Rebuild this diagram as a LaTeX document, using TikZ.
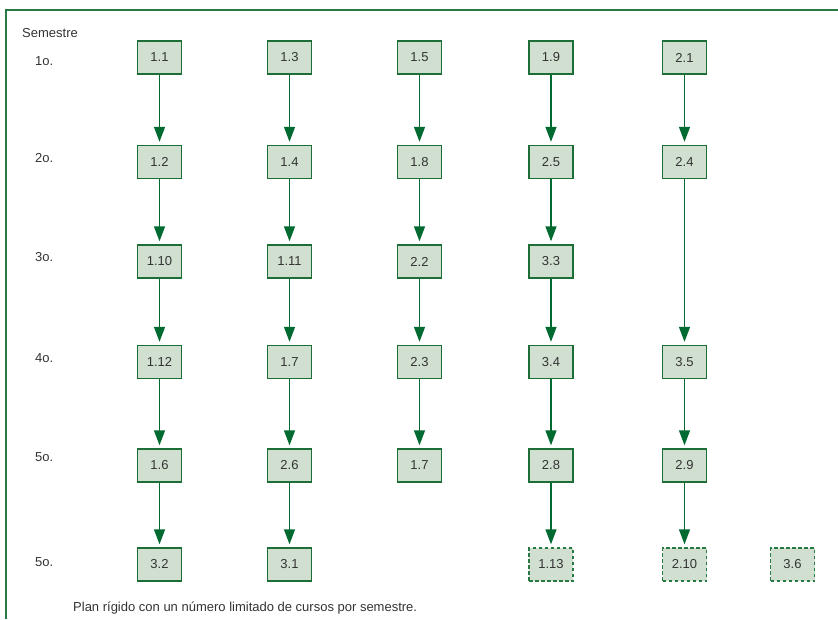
\documentclass[tikz,border=0pt]{standalone}
\usepackage{fontspec}
\setmainfont{Liberation Sans}
\usepackage{tikz}
\newcommand{\coursewidth}{44pt}
\newcommand{\courseheight}{33pt}
\definecolor{framegreen}{HTML}{267A42}
\definecolor{boxgreen}{HTML}{1D6E36}
\definecolor{coursefill}{HTML}{D0DFD0}
\definecolor{arrowgreen}{HTML}{006A30}
\definecolor{labelgray}{HTML}{333333}
\usetikzlibrary{arrows.meta}
\tikzstyle{course}=[draw=boxgreen, fill=coursefill, line width=1.4pt, inner sep=0,
                    minimum width=\coursewidth, minimum height=\courseheight, text=labelgray]
\tikzstyle{ecourse}=[course, draw=framegreen, dash pattern=on 3.5pt off 2.5pt]
\tikzstyle{prereq}=[draw=arrowgreen, line width=1.4pt, shorten >=3pt,
                    -{Triangle[length=15pt, width=11pt]}]
\tikzstyle{semesterplan}=[x=1pt, y=-1pt,
                          % Same font for every text, no padding.
                          every node/.style={inner sep=0, font=\fontsize{13}{15}\selectfont, text=labelgray}]
\begin{document}
\begin{tikzpicture}[semesterplan]
    \useasboundingbox (0, 0) rectangle (838, 619);
    % Open frame, top and left only.
    \draw[framegreen, line width=2pt] (6, 619) -- (6, 9.5) -- (838, 9.5);

    \node[anchor=base west] (sem) at (22, 37) {Semestre};
    \node[anchor=base west] (s1) at (35, 65) {1o.};
    \node[anchor=base west] (s2) at (35, 162) {2o.};
    \node[anchor=base west] (s3) at (35, 261) {3o.};
    \node[anchor=base west] (s4) at (35, 362) {4o.};
    \node[anchor=base west] (s5) at (35, 461) {5o.};
    \node[anchor=base west] (s6) at (35, 566) {5o.};

    % First column.
    \node[course] (c11) at (159.5, 57.5) {1.1};
    \node[course] (c12) at (159.5, 162) {1.2};
    \node[course] (c110) at (159.5, 261.5) {1.10};
    \node[course] (c112) at (159.5, 362) {1.12};
    \node[course] (c16) at (159.5, 465.5) {1.6};
    \node[course] (c32) at (159.5, 564.5) {3.2};
    % Second column.
    \node[course] (c13) at (289.5, 57.5) {1.3};
    \node[course] (c14) at (289.5, 162) {1.4};
    \node[course] (c111) at (289.5, 261.5) {1.11};
    \node[course] (c17) at (289.5, 362) {1.7};
    \node[course] (c26) at (289.5, 465.5) {2.6};
    \node[course] (c31) at (289.5, 564.5) {3.1};
    % Third column.
    \node[course] (c15) at (419.5, 57.5) {1.5};
    \node[course] (c18) at (419.5, 162) {1.8};
    \node[course] (c22) at (419.5, 261.5) {2.2};
    \node[course] (c23) at (419.5, 362) {2.3};
    \node[course] (c17b) at (419.5, 465.5) {1.7};
    % Fourth column.
    \node[course] (c19) at (551, 57.5) {1.9};
    \node[course] (c25) at (551, 162) {2.5};
    \node[course] (c33) at (551, 261.5) {3.3};
    \node[course] (c34) at (551, 362) {3.4};
    \node[course] (c28) at (551, 465.5) {2.8};
    \node[ecourse] (c113) at (551, 564.5) {1.13};
    % Fifth column.
    \node[course] (c21) at (684.5, 57.5) {2.1};
    \node[course] (c24) at (684.5, 162) {2.4};
    \node[course] (c35) at (684.5, 362) {3.5};
    \node[course] (c29) at (684.5, 465.5) {2.9};
    \node[ecourse] (c210) at (684.5, 564.5) {2.10};
    \node[ecourse] (c36) at (792.5, 564.5) {3.6};

    \draw[prereq] (c11) -- (c12);
    \draw[prereq] (c12) -- (c110);
    \draw[prereq] (c110) -- (c112);
    \draw[prereq] (c112) -- (c16);
    \draw[prereq] (c16) -- (c32);
    \draw[prereq] (c13) -- (c14);
    \draw[prereq] (c14) -- (c111);
    \draw[prereq] (c111) -- (c17);
    \draw[prereq] (c17) -- (c26);
    \draw[prereq] (c26) -- (c31);
    \draw[prereq] (c15) -- (c18);
    \draw[prereq] (c18) -- (c22);
    \draw[prereq] (c22) -- (c23);
    \draw[prereq] (c23) -- (c17b);
    \draw[prereq] (c19) -- (c25);
    \draw[prereq] (c25) -- (c33);
    \draw[prereq] (c33) -- (c34);
    \draw[prereq] (c34) -- (c28);
    \draw[prereq] (c28) -- (c113);
    \draw[prereq] (c21) -- (c24);
    \draw[prereq] (c24) -- (c35);
    \draw[prereq] (c35) -- (c29);
    \draw[prereq] (c29) -- (c210);

    \node[anchor=base west] (note) at (73, 611) {Plan rígido con un número limitado de cursos por semestre.};
\end{tikzpicture}
\end{document}
